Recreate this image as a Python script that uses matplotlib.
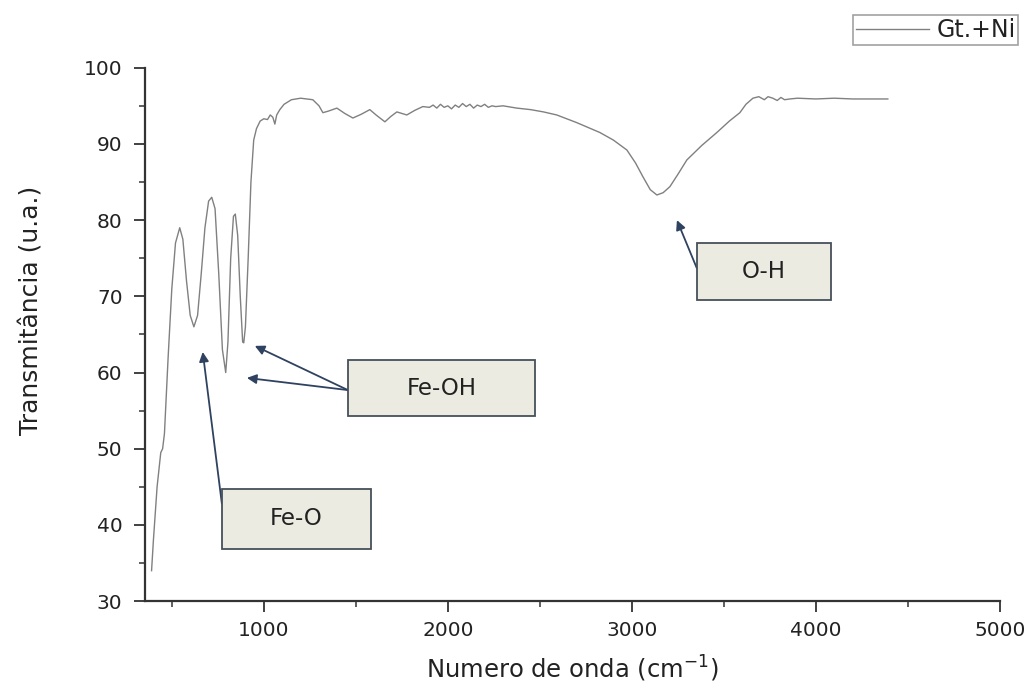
import matplotlib
matplotlib.use("Agg")
import matplotlib.pyplot as plt
from matplotlib.patches import Rectangle
from matplotlib.ticker import MultipleLocator

plt.rcParams['font.family'] = ['DejaVu Sans']

# FTIR spectrum, goethite + Ni
wavenumber = [390, 400, 420, 440, 450, 460, 480, 500, 520, 543, 560, 580, 600, 620,
              640, 660, 680, 700, 717, 735, 755, 775, 793, 805, 820, 835, 845, 858,
              872, 885, 891, 900, 915, 930, 945, 960, 980, 1000, 1020, 1035, 1049,
              1060, 1070, 1087, 1110, 1150, 1200, 1266, 1300, 1321, 1350, 1397, 1440,
              1484, 1530, 1576, 1610, 1658, 1690, 1723, 1777, 1820, 1864, 1900, 1920,
              1940, 1960, 1980, 2000, 2020, 2040, 2060, 2080, 2100, 2120, 2140, 2160,
              2180, 2200, 2220, 2240, 2260, 2300, 2375, 2450, 2520, 2592, 2700, 2826,
              2900, 2973, 3020, 3060, 3100, 3136, 3170, 3207, 3250, 3299, 3380, 3462,
              3530, 3587, 3620, 3658, 3690, 3720, 3740, 3766, 3790, 3810, 3830, 3859,
              3900, 4000, 4100, 4200, 4300, 4391]
transmittance = [34.0, 38.0, 45.0, 49.5, 50.0, 52.0, 62.0, 71.0, 77.0, 79.0, 77.5, 72.0,
                 67.5, 66.0, 67.5, 73.0, 79.0, 82.5, 83.0, 81.5, 73.0, 63.0, 60.0, 64.0,
                 75.0, 80.5, 80.8, 78.0, 70.0, 64.0, 63.9, 66.0, 75.0, 85.0, 90.5, 92.0,
                 93.0, 93.3, 93.2, 93.8, 93.5, 92.6, 93.8, 94.5, 95.2, 95.8, 96.0, 95.8,
                 95.0, 94.1, 94.3, 94.7, 94.0, 93.4, 93.9, 94.5, 93.8, 92.9, 93.6, 94.2,
                 93.8, 94.4, 94.9, 94.8, 95.1, 94.7, 95.2, 94.8, 95.0, 94.6, 95.1, 94.8,
                 95.3, 94.9, 95.2, 94.7, 95.1, 94.9, 95.2, 94.8, 95.0, 94.9, 95.0, 94.7,
                 94.5, 94.2, 93.8, 92.8, 91.5, 90.5, 89.2, 87.5, 85.7, 84.0, 83.3, 83.6,
                 84.4, 86.0, 87.9, 89.8, 91.5, 93.0, 94.1, 95.2, 96.0, 96.2, 95.8, 96.2,
                 96.0, 95.7, 96.1, 95.8, 95.9, 96.0, 95.9, 96.0, 95.9, 95.9, 95.9]

# band labels: text, box (x0, x1, y0, y1), arrow start, arrow tips
band_labels = ['Fe-O', 'Fe-OH', 'O-H']
band_boxes = [(772, 1582, 36.9, 44.7), (1457, 2473, 54.3, 61.6), (3353, 4082, 69.5, 77.0)]
band_starts = [(772, 42.8), (1457, 57.7), (3353, 73.7)]
band_tips = [[(668, 62.7)], [(951, 63.5), (908, 59.3)], [(3245, 80.0)]]

fig = plt.figure(figsize=(10.34, 6.91), dpi=100)
ax = fig.add_axes([0.140, 0.130, 0.827, 0.772])

ax.plot(wavenumber, transmittance, color='#808080', lw=1.0, label='Gt.+Ni')

for label, (x0, x1, y0, y1), start, tips in zip(band_labels, band_boxes, band_starts, band_tips):
    ax.add_patch(Rectangle((x0, y0), x1 - x0, y1 - y0, facecolor='#ecebe2',
                           edgecolor='#46505a', lw=1.3, zorder=3))
    ax.text((x0 + x1) / 2, (y0 + y1) / 2, label, ha='center', va='center',
            fontsize=16.5, color='#222222', zorder=4)
    for tip in tips:
        ax.annotate('', xy=tip, xytext=start,
                    arrowprops=dict(arrowstyle='-|>', color='#2f4260', lw=1.3,
                                    mutation_scale=14, shrinkA=0, shrinkB=0),
                    zorder=2)

ax.set_xlim(353, 5000)
ax.set_ylim(30, 100)
ax.xaxis.set_major_locator(MultipleLocator(1000))
ax.xaxis.set_minor_locator(MultipleLocator(500))
ax.yaxis.set_major_locator(MultipleLocator(10))
ax.yaxis.set_minor_locator(MultipleLocator(5))
ax.set_xticks([1000, 2000, 3000, 4000, 5000])

for side in ('top', 'right'):
    ax.spines[side].set_visible(False)
for side in ('left', 'bottom'):
    ax.spines[side].set_linewidth(1.6)
    ax.spines[side].set_color('#333333')
ax.tick_params(which='major', direction='out', length=8, width=1.3,
               labelsize=14.5, colors='#333333', labelcolor='#222222')
ax.tick_params(axis='y', which='major', pad=8)
ax.tick_params(axis='x', which='major', pad=6)
ax.tick_params(which='minor', direction='out', length=4, width=1.1, colors='#333333')

ax.set_xlabel(r'Numero de onda (cm$^{\mathregular{-1}}$)', fontsize=17.5, color='#222222')
ax.xaxis.set_label_coords(0.5, -0.098)
ax.set_ylabel('Transmitância (u.a.)', fontsize=18, color='#222222')
ax.yaxis.set_label_coords(-0.118, 0.546)

leg = fig.legend(loc='upper right', bbox_to_anchor=(0.985, 0.978), fontsize=17,
                 frameon=True, fancybox=False, handlelength=3.1, borderpad=0.12,
                 handletextpad=0.3, borderaxespad=0, labelcolor='#222222')
leg.get_frame().set_edgecolor('#8a8a8a')
leg.get_frame().set_linewidth(1.2)

fig.savefig('out.png', dpi=100)
